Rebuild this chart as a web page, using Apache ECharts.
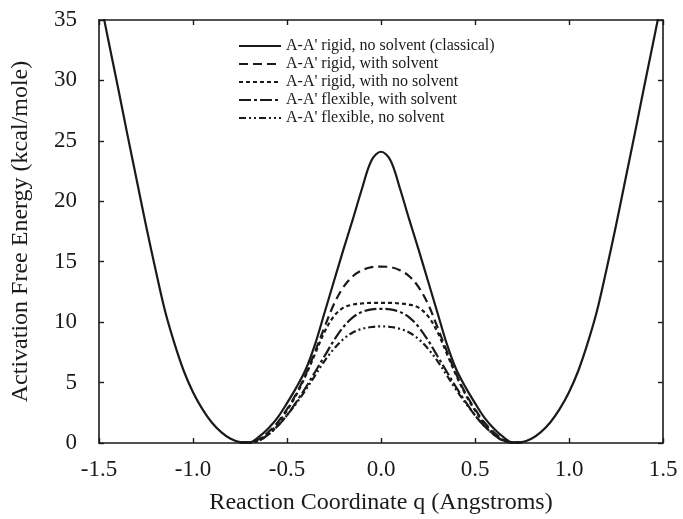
<!DOCTYPE html>
<html><head><meta charset="utf-8">
<script src="https://cdn.jsdelivr.net/npm/echarts@6/dist/echarts.min.js"></script>
<style>html,body{margin:0;padding:0;background:#fff}#c{width:683px;height:519px}</style>
</head><body><div id="c"></div>
<script>
// classical curve (rigid, no solvent)
const qClassical = [-1.50,-1.45,-1.40,-1.35,-1.30,-1.25,-1.20,-1.15,-1.10,-1.05,-1.00,-0.95,-0.90,-0.85,-0.80,-0.75,-0.70,-0.65,-0.60,-0.55,-0.50,-0.45,-0.40,-0.35,-0.30,-0.25,-0.20,-0.15,-0.10,-0.05,0.00,
  0.05,0.10,0.15,0.20,0.25,0.30,0.35,0.40,0.45,0.50,0.55,0.60,0.65,0.70,0.75,0.80,0.85,0.90,0.95,1.00,1.05,1.10,1.15,1.20,1.25,1.30,1.35,1.40,1.45,1.50];
const vClassical = [37.2,33.3,29.5,25.6,21.8,18.0,14.4,11.0,8.3,6.0,4.2,2.8,1.7,0.9,0.35,0.08,0.05,0.5,1.2,2.1,3.3,4.6,6.1,8.2,10.8,13.4,16.0,18.5,21.1,23.4,24.1,
  23.4,21.1,18.5,16.0,13.4,10.8,8.2,6.1,4.6,3.3,2.1,1.2,0.5,0.05,0.08,0.35,0.9,1.7,2.8,4.2,6.0,8.3,11.0,14.4,18.0,21.8,25.6,29.5,33.3,37.2];

// inner-region curves
const qInner = [-0.75,-0.70,-0.65,-0.60,-0.55,-0.50,-0.45,-0.40,-0.35,-0.30,-0.25,-0.20,-0.15,-0.10,-0.05,0.00,0.05,0.10,0.15,0.20,0.25,0.30,0.35,0.40,0.45,0.50,0.55,0.60,0.65,0.70,0.75];
const vRigidSolvent = [0.08,0.03,0.3,0.9,1.7,2.8,4.1,5.7,7.6,9.6,11.5,12.9,13.8,14.3,14.55,14.6,14.55,14.3,13.8,12.9,11.5,9.6,7.6,5.7,4.1,2.8,1.7,0.9,0.3,0.03,0.08];
const vRigidNoSolvent = [0.08,0.03,0.25,0.8,1.6,2.7,4.0,5.6,7.4,9.2,10.5,11.2,11.45,11.55,11.6,11.6,11.6,11.55,11.45,11.2,10.5,9.2,7.4,5.6,4.0,2.7,1.6,0.8,0.25,0.03,0.08];
const vFlexSolvent = [0.08,0.03,0.2,0.7,1.4,2.3,3.4,4.6,5.9,7.2,8.5,9.6,10.4,10.85,11.05,11.1,11.05,10.85,10.4,9.6,8.5,7.2,5.9,4.6,3.4,2.3,1.4,0.7,0.2,0.03,0.08];
const vFlexNoSolvent = [0.08,0.03,0.2,0.7,1.4,2.3,3.3,4.4,5.6,6.8,7.8,8.6,9.15,9.45,9.6,9.65,9.6,9.45,9.15,8.6,7.8,6.8,5.6,4.4,3.3,2.3,1.4,0.7,0.2,0.03,0.08];

const seriesNames = ["A-A' rigid, no solvent (classical)","A-A' rigid, with solvent","A-A' rigid, with no solvent","A-A' flexible, with solvent","A-A' flexible, no solvent"];
const xTicks = ["-1.5","-1.0","-0.5","0.0","0.5","1.0","1.5"];
const yTicks = [0,5,10,15,20,25,30,35];

const zip = (q, v) => q.map((x, i) => [x, v[i]]);
const font = "'Liberation Serif','DejaVu Serif',serif";
const ink = '#1a1a1a';
const dashes = ['solid',[9,5],[4,3],[12,3,3,3],[7,3,2,3,2,3]];
const datas = [zip(qClassical,vClassical),zip(qInner,vRigidSolvent),zip(qInner,vRigidNoSolvent),zip(qInner,vFlexSolvent),zip(qInner,vFlexNoSolvent)];

const chart = echarts.init(document.getElementById('c'), null, {renderer:'canvas'});
const axisCommon = {
  axisLine:{show:true,onZero:false,lineStyle:{color:ink,width:1.6}},
  axisTick:{show:true,inside:true,length:5,lineStyle:{color:ink,width:1.4}},
  splitLine:{show:false}
};
chart.setOption({
  animation:false,
  backgroundColor:'#fff',
  grid:{left:99,right:20,top:20,bottom:76,containLabel:false,outerBoundsMode:'none'},
  legend:{
    orient:'vertical', left:233, top:33, itemWidth:42, itemHeight:10, itemGap:2,
    textStyle:{fontFamily:font,fontSize:16,color:ink},
    itemStyle:{opacity:0},
    lineStyle:{width:2},
    data:seriesNames
  },
  xAxis:[
    Object.assign({type:'value',min:-1.5,max:1.5,interval:0.5,position:'bottom',
      name:'Reaction Coordinate q (Angstroms)',nameLocation:'middle',nameGap:48,
      nameTextStyle:{fontFamily:font,fontSize:24,color:ink},
      axisLabel:{fontFamily:font,fontSize:23,color:ink,margin:15,formatter:(v)=>xTicks[Math.round((v+1.5)/0.5)]}},axisCommon),
    Object.assign({type:'value',min:-1.5,max:1.5,interval:0.5,position:'top',axisLabel:{show:false}},axisCommon)
  ],
  yAxis:[
    Object.assign({type:'value',min:0,max:35,interval:5,position:'left',
      name:'Activation Free Energy (kcal/mole)',nameLocation:'middle',nameGap:66,
      nameTextStyle:{fontFamily:font,fontSize:24,color:ink},
      axisLabel:{fontFamily:font,fontSize:23,color:ink,margin:22,formatter:(v)=>String(yTicks[Math.round(v/5)])}},axisCommon),
    Object.assign({type:'value',min:0,max:35,interval:5,position:'right',axisLabel:{show:false}},axisCommon)
  ],
  series:seriesNames.map((n,i)=>({
    name:n,type:'line',data:datas[i],smooth:0.35,symbol:'none',showSymbol:false,clip:true,
    xAxisIndex:0,yAxisIndex:0,
    lineStyle:{color:ink,width:2.2,type:dashes[i]},
    itemStyle:{color:ink},
    z: 10-i
  }))
});
</script></body></html>
